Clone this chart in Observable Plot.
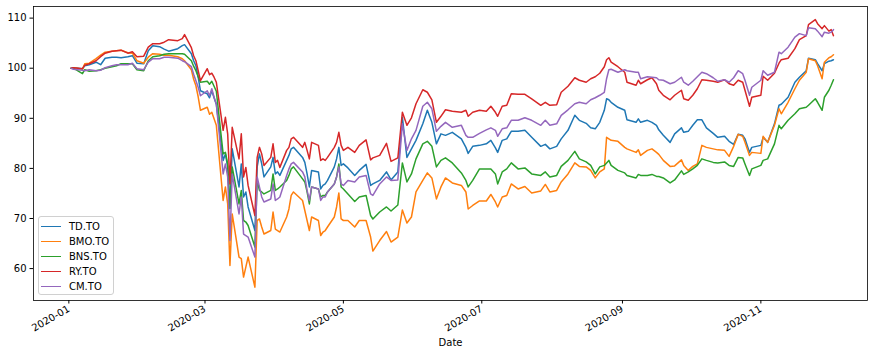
<!DOCTYPE html>
<html><head><meta charset="utf-8">
<script src="https://cdn.jsdelivr.net/npm/d3@7"></script>
<script src="https://cdn.jsdelivr.net/npm/@observablehq/plot@0.6"></script>
<style>
body{margin:0;background:#fff;font-family:"DejaVu Sans",sans-serif;}
#wrap{position:relative;width:877px;height:358px;}
#legend{position:absolute;left:38px;top:216px;width:76px;height:79px;border:1px solid #d0d0d0;border-radius:3px;background:rgba(255,255,255,0.8);box-sizing:border-box;font-size:10px;color:#000;}
.row{position:absolute;left:0;height:15px;display:flex;align-items:center;white-space:nowrap;}
.sw{width:20px;height:0;border-top:1.5px solid;margin-left:2px;margin-right:8px;}
</style></head><body><div id="wrap"><div id="chart"></div><div id="legend"></div></div>
<script>
const dates = [
"2020-01-02","2020-01-03","2020-01-07","2020-01-08","2020-01-10","2020-01-13","2020-01-15","2020-01-17","2020-01-20","2020-01-22","2020-01-24","2020-01-27","2020-01-29","2020-01-31","2020-02-03","2020-02-05","2020-02-07","2020-02-10","2020-02-12","2020-02-14","2020-02-18","2020-02-20","2020-02-21","2020-02-24","2020-02-25","2020-02-26","2020-02-27","2020-02-28",
"2020-03-02","2020-03-03","2020-03-04","2020-03-05","2020-03-06","2020-03-09","2020-03-10","2020-03-11","2020-03-12","2020-03-13","2020-03-16","2020-03-17","2020-03-18","2020-03-19","2020-03-20","2020-03-23","2020-03-24","2020-03-25","2020-03-26","2020-03-27","2020-03-30","2020-03-31","2020-04-01","2020-04-02","2020-04-03","2020-04-06","2020-04-07","2020-04-08","2020-04-09","2020-04-13","2020-04-14","2020-04-15","2020-04-16","2020-04-17","2020-04-20","2020-04-21","2020-04-22","2020-04-23","2020-04-24","2020-04-27","2020-04-28","2020-04-29","2020-04-30",
"2020-05-01","2020-05-03","2020-05-06","2020-05-08","2020-05-11","2020-05-13","2020-05-14","2020-05-17","2020-05-20","2020-05-22","2020-05-25","2020-05-27","2020-05-29","2020-05-31","2020-06-02","2020-06-05","2020-06-07","2020-06-09","2020-06-11","2020-06-13","2020-06-15","2020-06-18","2020-06-22",
"2020-06-24","2020-06-25","2020-06-27","2020-06-30","2020-07-03","2020-07-05","2020-07-07","2020-07-08","2020-07-10","2020-07-12","2020-07-14","2020-07-17","2020-07-20","2020-07-23","2020-07-27","2020-07-29","2020-07-31","2020-08-03","2020-08-05","2020-08-08","2020-08-11","2020-08-13","2020-08-16","2020-08-18","2020-08-20","2020-08-22","2020-08-24","2020-08-25","2020-08-26","2020-08-27",
"2020-08-30","2020-09-02","2020-09-03","2020-09-07","2020-09-08","2020-09-09","2020-09-12","2020-09-14","2020-09-16","2020-09-17","2020-09-19","2020-09-22","2020-09-24","2020-09-27","2020-09-28","2020-09-30","2020-10-02","2020-10-04","2020-10-06","2020-10-08","2020-10-11","2020-10-13","2020-10-16","2020-10-18","2020-10-20",
"2020-10-22","2020-10-24","2020-10-25","2020-10-27","2020-10-28","2020-11-01","2020-11-02","2020-11-04","2020-11-07","2020-11-09","2020-11-10","2020-11-13","2020-11-16","2020-11-18","2020-11-21","2020-11-22","2020-11-25","2020-11-26","2020-11-28","2020-11-29","2020-12-01","2020-12-02","2020-12-03"
];

const TD = [
100,100.1,99.9,100.5,100.7,101.2,100.7,102.0,102.2,102.2,102.1,102.3,102.5,101.0,100.9,103.5,104.5,104.3,103.8,103.4,103.9,104.5,104.7,102.9,101.5,100.5,98.2,95.5,
94.9,94.1,95.5,94.1,92.8,81.6,82.9,80.3,72.0,83.9,76.3,80.9,74.3,75.3,72.3,67.6,80.3,82.9,80.9,78.3,80.3,82.2,78.9,79.3,78.6,81.6,82.6,83.9,84.2,82.2,81.2,78.9,76.3,79.6,79.3,75.9,76.6,76.9,77.6,80.3,81.9,84.2,80.6,
80.9,80.1,78.6,79.6,80.8,76.6,76.9,77.6,79.3,77.7,79.3,90.2,82.2,83.9,85.6,88.9,91.6,89.2,84.9,86.9,86.6,87.2,85.9,
84.2,83.0,84.4,84.6,84.9,85.6,84.1,83.2,85.6,85.9,87.4,87.4,87.6,86.2,84.4,84.8,83.9,84.4,85.9,87.6,90.6,89.6,89.0,88.1,87.9,89.2,91.6,93.9,93.7,93.2,
92.2,91.6,89.7,89.2,89.9,89.2,89.6,89.2,88.6,87.7,86.6,85.2,86.9,88.1,87.2,87.4,88.6,89.7,89.7,88.1,87.0,86.2,86.4,85.4,84.8,
86.8,86.6,85.9,83.2,84.2,84.6,86.2,85.2,88.9,92.6,92.8,94.2,97.2,98.2,99.5,102.0,101.7,100.9,99.5,100.9,101.4,101.5,101.7
];
const BMO = [
100,100.1,99.8,100.9,101.0,101.9,102.6,103.2,103.4,103.5,103.6,103.1,103.0,101.5,101.0,102.2,102.9,102.8,102.6,102.6,102.3,101.9,101.5,99.7,97.8,96.5,94.3,91.6,
92.2,90.8,91.2,89.9,88.6,73.6,76.3,72.9,60.6,70.9,62.3,62.0,58.3,60.3,62.3,56.3,69.6,69.9,68.3,66.9,67.6,71.3,67.9,67.6,67.3,70.3,71.9,74.6,75.3,73.6,71.6,69.6,67.6,70.3,69.6,66.6,67.3,67.6,68.3,70.3,72.3,75.1,69.9,
69.6,69.6,68.3,69.6,69.6,66.3,63.5,65.6,67.4,65.3,66.3,71.7,69.1,70.3,75.3,77.6,79.1,78.1,73.9,76.3,78.1,77.1,76.6,
75.3,71.9,72.6,73.5,73.5,74.8,73.3,72.3,74.3,74.6,76.9,75.9,76.4,75.1,75.5,76.8,75.3,75.6,77.3,78.9,81.1,80.4,80.3,79.6,78.1,79.3,79.9,86.2,85.9,85.6,
85.4,84.2,83.9,83.2,83.7,82.6,83.6,83.9,83.2,82.8,81.6,80.4,80.5,81.7,80.6,79.6,80.4,80.9,84.6,84.2,83.9,83.7,83.6,82.4,84.4,
86.8,86.4,85.2,82.6,83.2,83.0,86.4,85.2,88.6,91.9,90.9,93.2,95.9,97.6,99.2,101.9,101.5,100.5,97.9,101.2,102.1,102.3,102.7
];
const BNS = [
100,100.0,98.9,99.7,99.4,99.5,99.7,100.0,100.3,100.5,100.9,100.9,100.9,99.7,99.5,101.5,102.3,102.5,102.8,102.9,102.9,102.9,102.8,101.5,100.4,99.5,98.3,97.2,
97.4,96.8,97.4,96.4,95.4,82.9,83.2,80.9,72.0,80.3,72.9,75.6,69.6,69.3,68.6,64.3,77.6,75.6,75.3,74.9,75.6,78.9,75.6,75.9,76.3,77.6,78.6,79.9,80.3,77.9,77.3,75.3,72.9,76.3,75.9,74.3,74.6,74.6,75.3,76.9,78.3,80.9,76.3,
75.9,74.9,73.4,74.3,74.6,70.6,69.9,71.3,72.3,71.5,72.7,81.1,77.3,78.9,81.9,84.9,85.4,84.4,80.3,81.6,82.1,81.1,79.1,
77.6,76.3,77.6,79.9,79.9,79.9,78.9,76.9,79.3,79.9,81.1,79.9,80.1,78.9,78.6,79.3,78.3,78.6,80.4,81.6,83.4,81.9,81.3,80.6,78.9,80.3,80.6,81.1,81.6,80.6,
79.6,79.1,78.6,78.1,78.8,78.6,78.6,78.8,78.4,78.4,78.1,77.1,77.7,79.5,78.8,79.3,79.9,80.6,81.9,81.6,81.2,81.1,81.3,80.6,80.4,
82.2,82.1,80.9,78.6,79.9,80.6,81.6,81.9,84.9,88.6,87.9,89.6,90.9,91.9,92.2,92.6,93.9,93.2,91.6,94.2,95.6,96.6,97.7
];
const RY = [
100,100.1,99.9,100.6,100.9,101.5,102.3,103.0,103.4,103.5,103.6,103.0,103.3,102.3,102.4,104.2,104.9,104.9,105.2,105.7,105.5,105.9,106.7,104.1,102.5,101.5,99.5,97.5,
99.9,98.7,99.0,98.2,97.2,87.6,90.2,86.9,76.9,88.2,81.9,86.9,78.3,80.2,76.6,70.6,82.2,84.2,82.9,80.6,82.2,84.9,81.2,81.6,80.2,83.6,84.2,85.9,86.2,84.2,85.2,83.6,81.9,85.2,84.6,81.6,81.9,81.6,82.2,84.2,85.2,87.2,84.6,
83.6,84.2,83.2,84.6,85.7,81.7,82.1,82.6,85.0,81.4,82.1,91.2,88.6,90.1,92.9,95.7,95.2,93.7,89.2,90.4,91.7,91.4,91.2,
91.6,90.4,91.2,91.6,91.4,92.4,91.2,90.4,92.4,92.6,94.9,94.8,94.8,93.9,92.6,93.2,92.6,92.7,95.2,96.4,98.1,97.6,97.2,97.9,98.3,99.0,100.3,101.7,102.1,101.2,
100.3,99.2,97.2,96.6,97.6,96.9,97.7,98.1,96.9,95.6,94.6,93.7,94.6,95.6,93.9,93.6,94.6,95.9,97.7,97.6,97.4,97.2,97.7,96.9,96.6,
97.6,97.2,95.6,92.4,94.2,94.6,98.4,97.6,99.0,101.0,101.7,102.0,103.9,105.7,106.5,108.7,109.7,108.9,107.9,108.5,107.4,107.7,106.5
];
const CM = [
100,99.8,99.6,99.5,99.7,99.5,99.6,100.1,100.5,100.7,100.7,100.7,101.0,99.9,99.7,101.2,101.9,101.9,102.2,102.2,102.0,101.5,101.3,100.3,98.8,97.5,96.2,94.5,
95.5,94.5,95.9,94.2,92.8,78.9,80.9,78.3,65.6,78.9,70.9,74.3,66.9,66.6,66.3,62.3,78.3,76.3,74.3,73.3,73.9,76.9,73.6,73.9,74.3,78.6,79.9,80.9,81.2,79.3,78.3,75.6,73.6,76.3,75.9,73.6,74.3,74.3,75.3,76.9,78.3,80.3,76.9,
76.6,77.6,77.3,78.3,78.6,74.9,74.6,76.9,78.3,77.6,77.7,88.9,83.6,85.9,87.6,92.4,93.2,91.9,87.4,88.4,89.2,88.2,88.6,
86.6,86.2,86.2,87.0,87.7,88.1,87.6,86.4,87.9,88.1,89.6,89.6,90.1,89.6,88.6,89.6,88.6,88.9,90.6,91.7,92.9,93.2,92.9,93.7,94.1,94.6,95.2,97.9,99.7,99.8,
99.2,99.7,99.5,99.2,99.2,97.9,98.3,98.2,98.1,97.7,97.6,96.9,97.2,98.2,97.2,96.6,97.4,98.3,99.2,98.9,98.1,97.4,97.7,97.2,98.1,
99.5,98.9,97.6,94.6,96.2,97.6,99.5,98.6,99.2,103.2,102.9,104.2,106.2,106.9,106.5,108.1,107.9,107.4,106.3,107.2,107.0,107.2,107.7
];

const names = ["TD.TO","BMO.TO","BNS.TO","RY.TO","CM.TO"];
const colors = ["#1f77b4","#ff7f0e","#2ca02c","#d62728","#9467bd"];
const tickDates = ["2020-01-01","2020-03-01","2020-05-01","2020-07-01","2020-09-01","2020-11-01"];
const yTicks = [60,70,80,90,100,110];
const xLabel = "Date";

const seriesVals = [TD, BMO, BNS, RY, CM];
const rows = [];
seriesVals.forEach((vals, k) => vals.forEach((v, i) => rows.push({date: new Date(dates[i]), value: v, name: names[k]})));

const chart = Plot.plot({
  width: 877, height: 358,
  marginLeft: 33, marginRight: 10, marginTop: 6, marginBottom: 58,
  style: {fontFamily: "DejaVu Sans, sans-serif", fontSize: "10px", color: "#000", background: "#fff"},
  x: {type: "utc", domain: [new Date(Date.UTC(2019, 11, 16, 10)), new Date(Date.UTC(2020, 11, 18))]},
  y: {domain: [53.63, 112.32]},
  color: {domain: names, range: colors},
  marks: [
    Plot.line(rows, {x: "date", y: "value", z: "name", stroke: "name", strokeWidth: 1.5}),
    Plot.frame({stroke: "#000", strokeWidth: 0.8}),
    Plot.axisY({ticks: yTicks, tickSize: 3.5, tickPadding: 3.5, label: null, stroke: "#000"}),
    Plot.axisX({ticks: tickDates.map(d => new Date(d)), tickFormat: d3.utcFormat("%Y-%m"), tickRotate: -30, tickSize: 3.5, tickPadding: 4, label: null}),
    Plot.text([xLabel], {frameAnchor: "bottom", dy: 45, text: d => d, fontSize: 10})
  ]
});
document.getElementById("chart").appendChild(chart);

const legend = document.getElementById("legend");
names.forEach((n, i) => {
  const row = document.createElement("div");
  row.className = "row";
  row.style.top = (1.5 + 15 * i) + "px";
  const sw = document.createElement("span");
  sw.className = "sw";
  sw.style.borderTopColor = colors[i];
  const t = document.createElement("span");
  t.textContent = n;
  row.appendChild(sw); row.appendChild(t);
  legend.appendChild(row);
});
</script></body></html>
